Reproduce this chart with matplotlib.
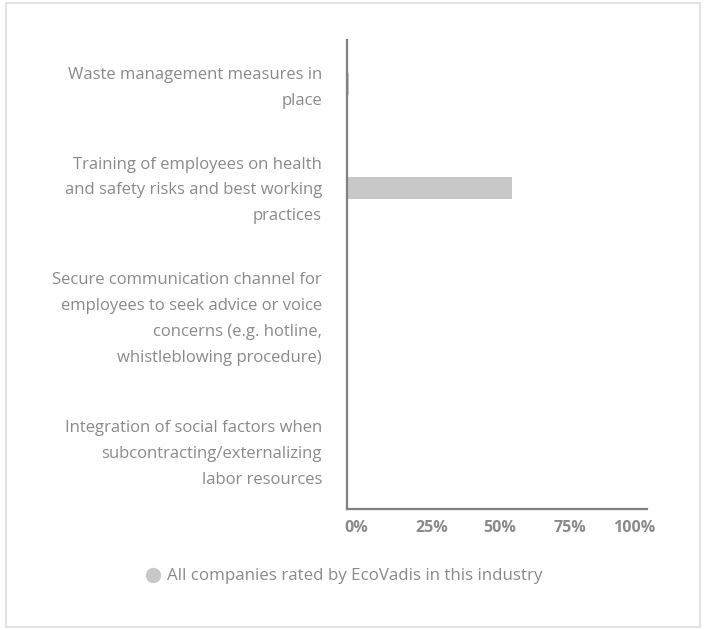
import matplotlib
matplotlib.use("Agg")
import matplotlib.pyplot as plt
import matplotlib.transforms as mtransforms
from matplotlib.patches import Rectangle
from matplotlib.lines import Line2D

plt.rcParams['font.family'] = ['Open Sans', 'DejaVu Sans']

# ==========================
# Data
# ==========================
categories = [
    "Waste management measures in\nplace",
    "Training of employees on health\nand safety risks and best working\npractices",
    "Secure communication channel for\nemployees to seek advice or voice\nconcerns (e.g. hotline,\nwhistleblowing procedure)",
    "Integration of social factors when\nsubcontracting/externalizing\nlabor resources",
]
industry_pct = [0.5, 55, 0, 0]
tick_vals = [0, 25, 50, 75, 100]
tick_labels = ["0%", "25%", "50%", "75%", "100%"]
legend_label = "All companies rated by EcoVadis in this industry"

text_color = "#8a8a8a"
bar_color = "#c8c8c8"
axis_color = "#808080"

# ==========================
# Figure
# ==========================
W, H = 707, 630
fig = plt.figure(figsize=(W / 100, H / 100), dpi=100)
ax = fig.add_axes([347 / W, 1 - 509 / H, 300 / W, 469 / H])

ypos = list(range(len(categories)))
ax.barh(ypos, industry_pct, height=0.21, color=bar_color, linewidth=0)

ax.set_xlim(0, 100)
ax.set_ylim(4.09, -0.42)

# y labels (label placement only, bars stay on category index)
label_y = [-0.025, 0.96, 2.195, 3.49]
ax.set_yticks(label_y)
ax.set_yticklabels(categories, fontsize=12, color=text_color, linespacing=1.83)
ax.tick_params(axis="y", length=0, pad=18)

# x labels
ax.set_xticks(tick_vals)
ax.set_xticklabels(tick_labels, fontsize=11.5, fontweight="bold", color=text_color)
ax.tick_params(axis="x", length=0, pad=8)
shifts = [9, 10, 3, -2.5, -12.5]
for lab, dx in zip(ax.get_xticklabels(), shifts):
    lab.set_transform(lab.get_transform() + mtransforms.ScaledTranslation(dx / 100, 0, fig.dpi_scale_trans))

for s in ["top", "right"]:
    ax.spines[s].set_visible(False)
for s in ["left", "bottom"]:
    ax.spines[s].set_color(axis_color)
    ax.spines[s].set_linewidth(1.6)

# legend
fig.lines.append(Line2D([153 / W], [1 - 575 / H], marker="o", markersize=10,
                        color=bar_color, transform=fig.transFigure))
fig.text(167 / W, 1 - 576 / H, legend_label, fontsize=12.2, color=text_color,
         va="center", ha="left")

# outer border
fig.patches.append(Rectangle((6 / W, 3 / H), 694 / W, 624 / H, transform=fig.transFigure,
                             fill=False, edgecolor="#e3e3e3", linewidth=1.5))

fig.savefig("out.png", dpi=100)
